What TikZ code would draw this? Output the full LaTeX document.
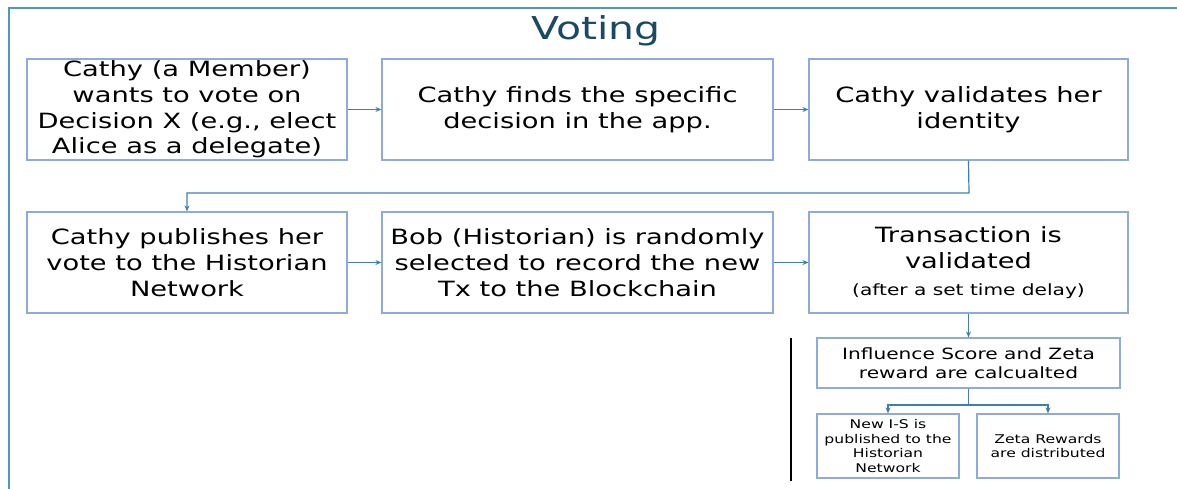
\documentclass[tikz,border=0pt]{standalone}
\usepackage{fontspec}
\setmainfont{DejaVu Sans}[FakeStretch=1.3]
\usetikzlibrary{arrows.meta}
\definecolor{framec}{HTML}{4F97C2}
\definecolor{boxc}{HTML}{8FAADC}
\definecolor{linkc}{HTML}{3D7FAF}
\definecolor{titlec}{HTML}{1A4A63}
\tikzset{
  stepbox/.style={draw=boxc, line width=1.2pt, rectangle, inner sep=0pt,
    align=center, text=black, font=\fontsize{21}{25.7}\selectfont},
  smallbox/.style={stepbox, font=\fontsize{15.5}{19.5}\selectfont},
  tinybox/.style={stepbox, font=\fontsize{12}{14.8}\selectfont},
  link/.style={draw=linkc, line width=1.2pt, -{Stealth[length=6pt,width=5pt]}},
  plainlink/.style={draw=linkc, line width=1.2pt},
}
\begin{document}
\begin{tikzpicture}[x=1pt,y=-1pt]
\useasboundingbox (0,0) rectangle (1177,489);
% outer frame
\coordinate (ftr) at (1177,8);
\coordinate (ftl) at (9,8);
\coordinate (fbl) at (9,489);
\draw[framec, line width=1.2pt] (ftr) -- (ftl) -- (fbl);
% heading
\node[anchor=base, text=titlec, font=\fontsize{31.5}{36}\selectfont, inner sep=0pt] (title) at (596,40) {Voting};
% first row
\node[stepbox, minimum width=320pt, minimum height=101pt] (b1) at (187,109.5)
  {Cathy (a Member)\\wants to vote on\\Decision X (e.g., elect\\Alice as a delegate)};
\node[stepbox, minimum width=391pt, minimum height=101pt] (b2) at (577.5,109.5)
  {Cathy finds the specific\\decision in the app.};
\node[stepbox, minimum width=319pt, minimum height=101pt] (b3) at (968.5,109.5)
  {Cathy validates her\\identity};
% second row
\node[stepbox, minimum width=320pt, minimum height=101pt] (b4) at (187,262.5)
  {Cathy publishes her\\vote to the Historian\\Network};
\node[stepbox, minimum width=391pt, minimum height=101pt] (b5) at (577.5,262.5)
  {Bob (Historian) is randomly\\selected to record the new\\Tx to the Blockchain};
\node[stepbox, minimum width=319pt, minimum height=101pt] (b6) at (968.5,262.5)
  {Transaction is\\validated\\[1pt]{\fontsize{15.5}{19}\selectfont (after a set time delay)}};
% outcome boxes
\node[smallbox, minimum width=303pt, minimum height=50pt] (b7) at (968.5,363)
  {Influence Score and Zeta\\reward are calcualted};
\node[tinybox, minimum width=142pt, minimum height=64pt] (b8) at (888,446)
  {New I-S is\\published to the\\Historian\\Network};
\node[tinybox, minimum width=142pt, minimum height=64pt] (b9) at (1048,446)
  {Zeta Rewards\\are distributed};
% connectors
\draw[link] (b1.east) -- (b2.west);
\draw[link] (b2.east) -- (b3.west);
\coordinate (turn) at (969,193);
\draw[link] (b3.south) -- (turn) -| (b4.north);
\draw[link] (b4.east) -- (b5.west);
\draw[link] (b5.east) -- (b6.west);
\draw[link] (b6.south) -- (b7.north);
\coordinate (split) at (968.5,405);
\draw[plainlink] (b7.south) -- (split);
\draw[link] (split) -| (b8.north);
\draw[link] (split) -| (b9.north);
% divider
\coordinate (dtop) at (791,338);
\coordinate (dbot) at (791,481);
\draw[black, line width=1.6pt] (dtop) -- (dbot);
\end{tikzpicture}
\end{document}
